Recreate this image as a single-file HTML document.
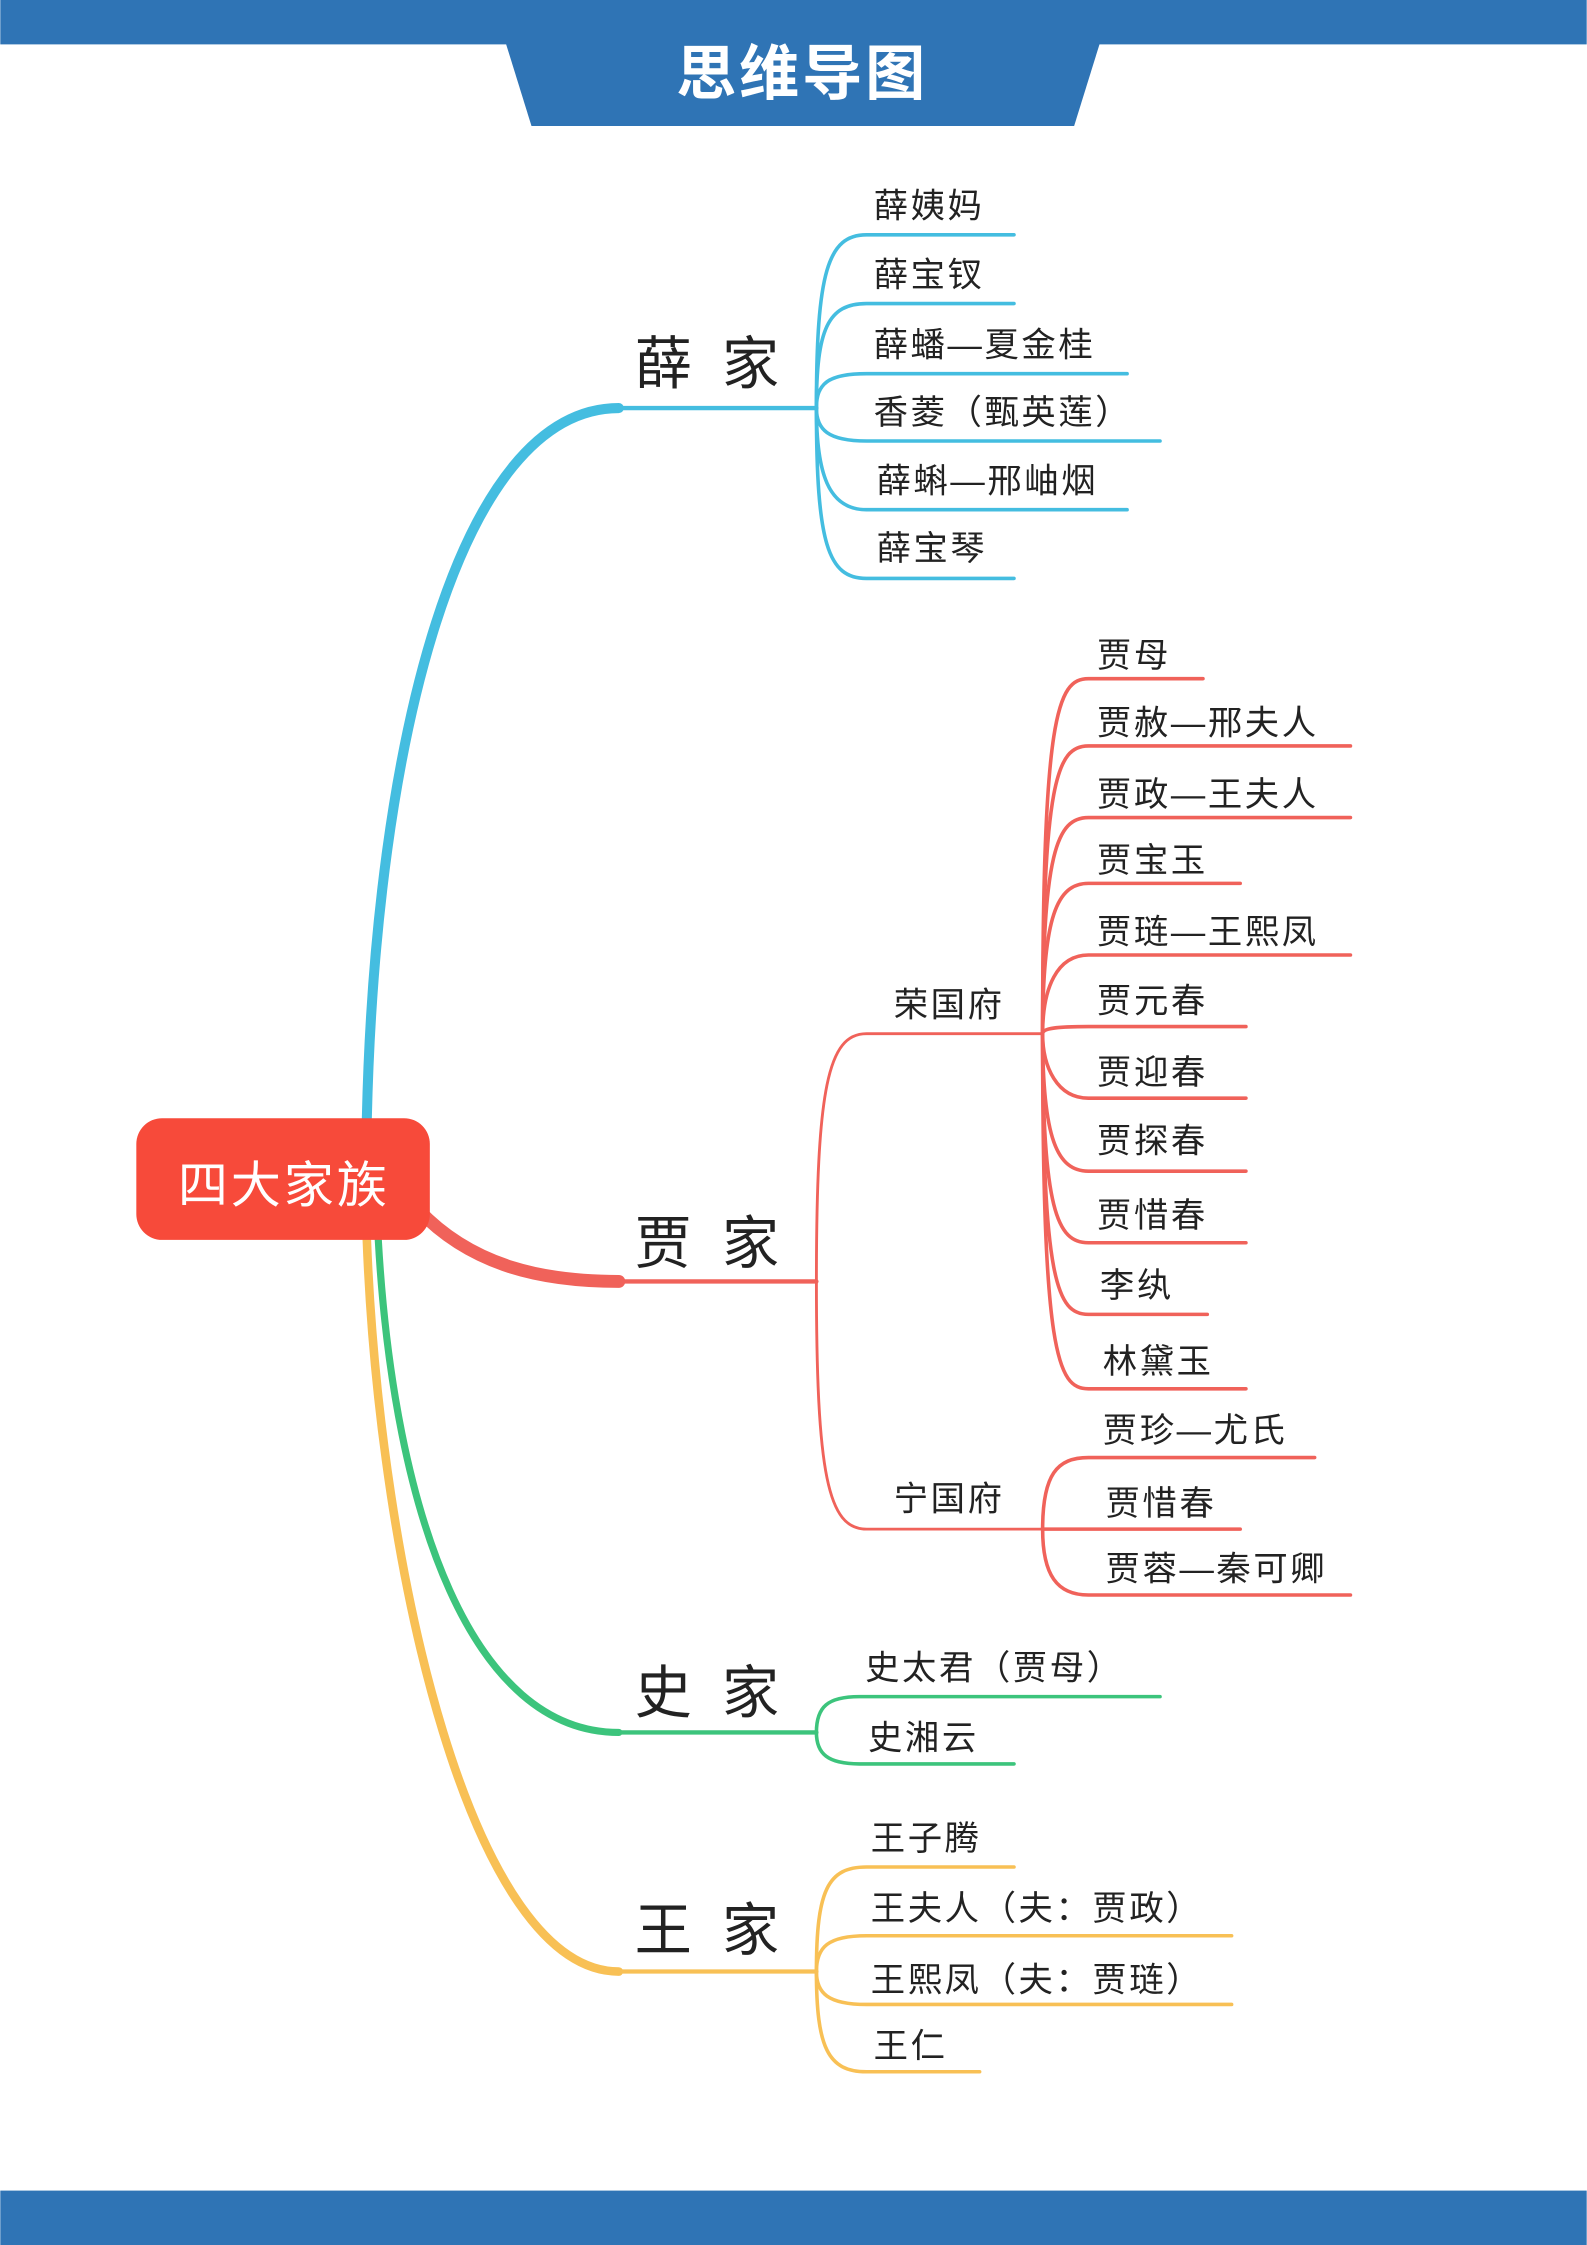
<!DOCTYPE html>
<html><head><meta charset="utf-8"><style>
html,body{margin:0;padding:0;background:#fff;}
svg{display:block;}
text{font-family:"Liberation Sans","Noto Sans CJK SC",sans-serif;fill:#222;}
</style></head><body>
<svg width="1587" height="2245" viewBox="0 0 1108 1568" xmlns="http://www.w3.org/2000/svg">
<rect x="0" y="0" width="1108" height="31" fill="#2f74b5"/>
<polygon points="353,30 768,30 750,88 371,88" fill="#2f74b5"/>
<text x="560" y="66" text-anchor="middle" font-size="42" font-weight="bold" letter-spacing="2" style="fill:#fff">思维导图</text>
<rect x="0" y="1530" width="1108" height="38" fill="#2f74b5"/>

<g fill="none" stroke-linecap="round">
<path d="M256,781 C262,520 320,285 432,285" stroke="#44bde0" stroke-width="7"/>
<path d="M430,285 L570,285" stroke="#44bde0" stroke-width="3"/>
<path d="M292,845 C330,885 380,895 432,895" stroke="#f0625a" stroke-width="9"/>
<path d="M430,895 L570,895" stroke="#f0625a" stroke-width="3"/>
<path d="M264,866 C275,1060 330,1210 432,1210" stroke="#3cc47c" stroke-width="5"/>
<path d="M430,1210 L570,1210" stroke="#3cc47c" stroke-width="3"/>
<path d="M256,866 C265,1100 330,1377 432,1377" stroke="#f8c055" stroke-width="6"/>
<path d="M430,1377 L570,1377" stroke="#f8c055" stroke-width="3"/>

<g stroke="#44bde0" stroke-width="2.5">
<path d="M570,285 C570,190 578,164 605,164 L708,164"/>
<path d="M570,285 C570,230 578,212 605,212 L708,212"/>
<path d="M570,285 C570,268 578,261 605,261 L787,261"/>
<path d="M570,285 C570,300 578,308 605,308 L810,308"/>
<path d="M570,285 C570,330 578,356 605,356 L787,356"/>
<path d="M570,285 C570,380 578,404 605,404 L708,404"/>
</g>
<g stroke="#f0625a" stroke-width="2">
<path d="M570,895 C570,760 578,722 605,722 L728,722"/>
<path d="M570,895 C570,1030 578,1068 605,1068 L728,1068"/>
</g>
<g stroke="#f0625a" stroke-width="2.5">
<path d="M728,722 C728,500 738,474 760,474 L840,474"/>
<path d="M728,722 C728,545 738,521 760,521 L943,521"/>
<path d="M728,722 C728,595 738,571 760,571 L943,571"/>
<path d="M728,722 C728,640 738,617 760,617 L866,617"/>
<path d="M728,722 C728,690 738,667 760,667 L943,667"/>
<path d="M728,722 C728,718 738,717 760,717 L870,717"/>
<path d="M728,722 C728,745 738,767 760,767 L870,767"/>
<path d="M728,722 C728,795 738,818 760,818 L870,818"/>
<path d="M728,722 C728,845 738,868 760,868 L870,868"/>
<path d="M728,722 C728,895 738,918 760,918 L843,918"/>
<path d="M728,722 C728,945 738,970 760,970 L870,970"/>
<path d="M728,1068 C728,1030 738,1018 760,1018 L918,1018"/>
<path d="M728,1068 L866,1068"/>
<path d="M728,1068 C728,1100 738,1114 760,1114 L943,1114"/>
</g>
<g stroke="#3cc47c" stroke-width="2.5">
<path d="M570,1210 C570,1192 578,1185 600,1185 L810,1185"/>
<path d="M570,1210 C570,1225 578,1232 600,1232 L708,1232"/>
</g>
<g stroke="#f8c055" stroke-width="2.5">
<path d="M570,1377 C570,1320 578,1304 605,1304 L708,1304"/>
<path d="M570,1377 C570,1360 578,1352 605,1352 L860,1352"/>
<path d="M570,1377 C570,1392 578,1400 605,1400 L860,1400"/>
<path d="M570,1377 C570,1430 578,1447 605,1447 L684,1447"/>
</g>
</g>

<rect x="95" y="781" width="205" height="85" rx="18" fill="#f74a3a"/>
<text x="198" y="840" text-anchor="middle" font-size="35" letter-spacing="2" style="fill:#fff">四大家族</text>

<g font-size="40">
<text x="443" y="268">薛</text><text x="504" y="268">家</text>
<text x="443" y="882">贾</text><text x="504" y="882">家</text>
<text x="443" y="1196">史</text><text x="504" y="1196">家</text>
<text x="443" y="1362">王</text><text x="504" y="1362">家</text>
</g>
<g font-size="24" letter-spacing="1.8">
<text x="610" y="152">薛姨妈</text>
<text x="610" y="200">薛宝钗</text>
<text x="610" y="249">薛蟠—夏金桂</text>
<text x="610" y="296">香菱（甄英莲）</text>
<text x="612" y="344">薛蝌—邢岫烟</text>
<text x="612" y="391">薛宝琴</text>
<text x="624" y="710">荣国府</text>
<text x="624" y="1055">宁国府</text>
<text x="766" y="466">贾母</text>
<text x="766" y="513">贾赦—邢夫人</text>
<text x="766" y="563">贾政—王夫人</text>
<text x="766" y="609">贾宝玉</text>
<text x="766" y="659">贾琏—王熙凤</text>
<text x="766" y="707">贾元春</text>
<text x="766" y="757">贾迎春</text>
<text x="766" y="805">贾探春</text>
<text x="766" y="857">贾惜春</text>
<text x="768" y="906">李纨</text>
<text x="770" y="959">林黛玉</text>
<text x="770" y="1007">贾珍—尤氏</text>
<text x="772" y="1058">贾惜春</text>
<text x="772" y="1104">贾蓉—秦可卿</text>
<text x="604" y="1173">史太君（贾母）</text>
<text x="606" y="1222">史湘云</text>
<text x="608" y="1292">王子腾</text>
<text x="608" y="1341">王夫人（夫：贾政）</text>
<text x="608" y="1391">王熙凤（夫：贾琏）</text>
<text x="610" y="1437">王仁</text>
</g>
</svg>
</body></html>
